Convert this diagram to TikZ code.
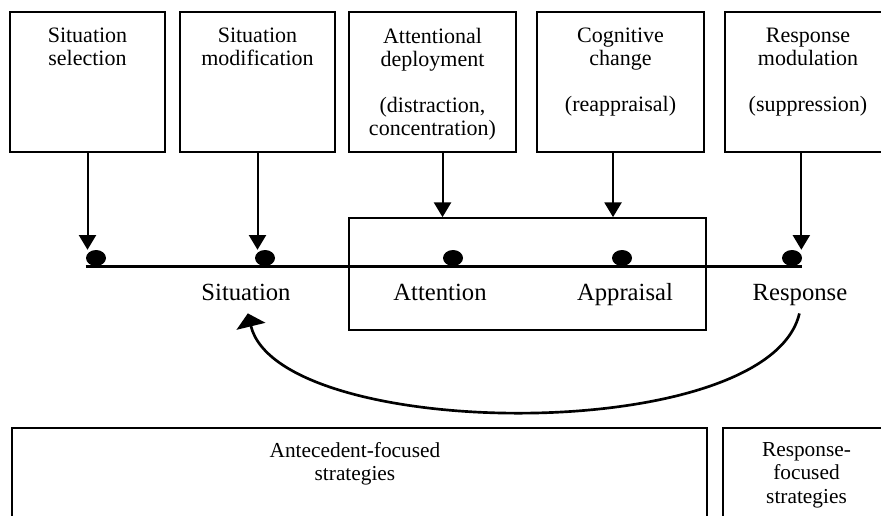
\documentclass[tikz,border=0pt]{standalone}
\usepackage{fontspec}
\setmainfont{Liberation Serif}
\usetikzlibrary{shapes.geometric,arrows.meta}

\begin{document}
\begin{tikzpicture}[
  x=0.75pt, y=-0.75pt,
  topbox/.style={
    draw, line width=1.3pt,
    minimum width=116.25pt, minimum height=105pt,
    inner sep=0pt, fill=white,
  },
  botbox/.style={
    draw, line width=1.3pt,
    minimum height=84pt, inner sep=0pt, fill=white,
  },
  toptext/.style={anchor=north, yshift=-12.75pt, align=center, inner sep=0pt,
    font=\fontsize{16.5}{17.25}\selectfont},
  bottext/.style={anchor=north, yshift=-11.25pt, align=center, inner sep=0pt,
    font=\fontsize{16}{17.6}\selectfont},
  stage/.style={anchor=base, inner sep=4pt, font=\fontsize{18.5}{22}\selectfont},
  dot/.style={ellipse, fill, minimum width=15pt, minimum height=12pt, inner sep=0pt},
  arr/.style={-{Triangle[length=11pt,width=12.75pt]}, line width=1.5pt},
  back/.style={-{Triangle[length=10pt,width=22pt]}, line width=2pt,
    shorten <=2pt, shorten >=5.8pt},
  timeline/.style={line width=2.5pt},
]
\useasboundingbox (0,0) rectangle (881,515);
\clip (0,0) rectangle (881,515);

% strategy boxes
\node[topbox] (sitsel) at (87.5,82) {};
\node[topbox] (sitmod) at (257.5,82) {};
\node[topbox, minimum width=125.25pt] (attdep) at (432.5,82) {};
\node[topbox, minimum width=125.25pt] (cogchg) at (620.5,82) {};
\node[topbox, minimum width=124.5pt] (respmod) at (808,82) {};

\node[toptext] (tsitsel) at (sitsel.north) {Situation\\selection};
\node[toptext] (tsitmod) at (sitmod.north) {Situation\\modification};
\node[toptext] (tattdep) at (attdep.north) {Attentional\\deployment\\[17.25pt](distraction,\\concentration)};
\node[toptext] (tcogchg) at (cogchg.north) {Cognitive\\change\\[17.25pt](reappraisal)};
\node[toptext] (trespmod) at (respmod.north) {Response\\modulation\\[17.25pt](suppression)};

% process line
\node[draw, line width=1.3pt, minimum width=267.75pt, minimum height=84pt] (attapp) at (527.5,274) {};
\node[dot] (dsel) at (96,258) {};
\node[dot] (dmod) at (265,258) {};
\node[dot] (datt) at (453,258) {};
\node[dot] (dapp) at (622,258) {};
\node[dot] (dresp) at (792,258) {};
\draw[timeline] (dsel.west |- dsel.south) -- (dresp.east |- dresp.south);

\node[stage] (lsit) at (246,300) {Situation};
\node[stage] (latt) at (440,300) {Attention};
\node[stage] (lapp) at (625,300) {Appraisal};
\node[stage] (lresp) at (800,300) {Response};

\draw[arr] (sitsel.south) -- (sitsel.south |- dsel.north);
\draw[arr] (sitmod.south) -- (sitmod.south |- dmod.north);
\draw[arr] ([xshift=7.5pt]attdep.south) -- ([xshift=7.5pt]attdep.south |- attapp.north);
\draw[arr] ([xshift=-5.6pt]cogchg.south) -- ([xshift=-5.6pt]cogchg.south |- attapp.north);
\draw[arr] ([xshift=-5pt]respmod.south) -- ([xshift=-5pt]respmod.south |- dresp.north);

\draw[back] (lresp.south) .. controls +(-32,136) and +(33,136) .. (lsit.south);

% strategy families
\node[botbox, minimum width=521.25pt] (antec) at (359.5,484) {};
\node[botbox, minimum width=125.25pt] (respf) at (806.5,484) {};
\node[bottext] (tantec) at ([xshift=-3.4pt]antec.north) {Antecedent-focused\\strategies};
\node[bottext] (trespf) at (respf.north) {Response-\\focused\\strategies};

\end{tikzpicture}
\end{document}
